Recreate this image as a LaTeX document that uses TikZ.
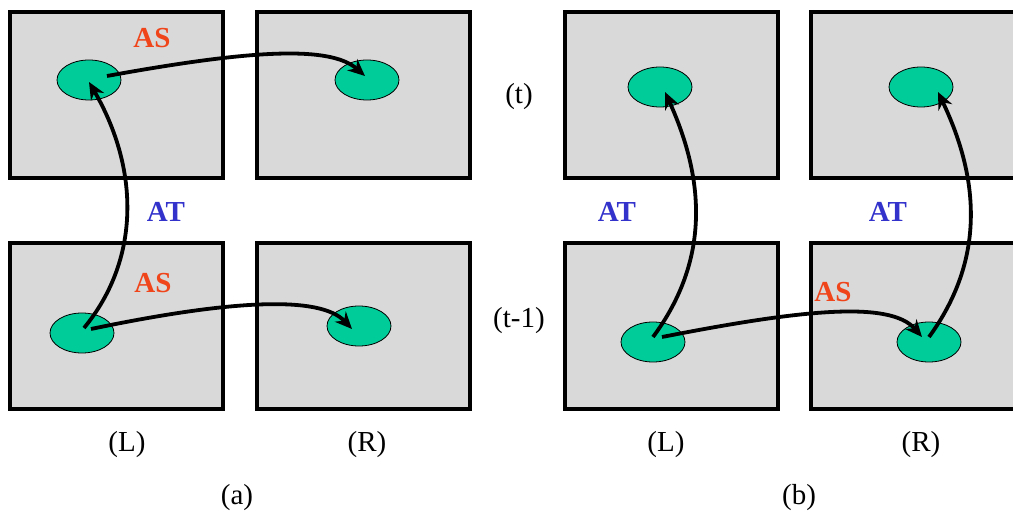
\documentclass[tikz,border=0pt]{standalone}
\usepackage{fontspec}
\setmainfont{Liberation Serif}[BoldFont={Liberation Serif Bold}]
\usepackage{tikz}
\usetikzlibrary{arrows.meta,shapes.geometric}
\definecolor{boxgray}{RGB}{217,217,217}
\definecolor{blobgreen}{RGB}{0,204,153}
\definecolor{asred}{RGB}{240,68,26}
\definecolor{atblue}{RGB}{51,51,204}
\tikzset{
  frame/.style={rectangle, draw, line width=2pt, fill=boxgray, minimum width=106.5pt, minimum height=83pt, inner sep=0pt},
  blob/.style={ellipse, draw, line width=0.4pt, fill=blobgreen, minimum width=32pt, minimum height=20pt, inner sep=0pt},
  lbl/.style={font=\fontsize{14.5}{17}\selectfont},
  aslbl/.style={font=\fontsize{14.5}{17}\selectfont\bfseries, text=asred},
  atlbl/.style={font=\fontsize{14.5}{17}\selectfont\bfseries, text=atblue},
  arr/.style={line width=1.9pt, -{Stealth[length=8.5pt,width=7.5pt]}},
  >=Stealth
}

\begin{document}
\begin{tikzpicture}[x=0.5pt, y=-0.5pt]
  \useasboundingbox (0,0) rectangle (1013,513);
  \clip (0,0) rectangle (1013,513);
  % frames
  \node[frame] (aTL) at (116.5,95) {};
  \node[frame] (aTR) at (363,95) {};
  \node[frame] (aBL) at (116.5,326) {};
  \node[frame] (aBR) at (363,326) {};
  \node[frame] (bTL) at (671.5,95) {};
  \node[frame] (bTR) at (917.5,95) {};
  \node[frame] (bBL) at (671.5,326) {};
  \node[frame] (bBR) at (917.5,326) {};
  % blobs
  \node[blob] (eaTL) at (89,80) {};
  \node[blob] (eaTR) at (367,80) {};
  \node[blob] (eaBL) at (82,333) {};
  \node[blob] (eaBR) at (359,326) {};
  \node[blob] (ebTL) at (660,87) {};
  \node[blob] (ebTR) at (921,87) {};
  \node[blob] (ebBL) at (653,342) {};
  \node[blob] (ebBR) at (929,342) {};
  % labels
  \node[aslbl] (asa1) at (152,38) {AS};
  \node[aslbl] (asa2) at (153,283) {AS};
  \node[aslbl] (asb) at (833,292) {AS};
  \node[atlbl] (ata) at (166,212) {AT};
  \node[atlbl] (atb1) at (617,212) {AT};
  \node[atlbl] (atb2) at (888,212) {AT};
  \node[lbl] (tnow) at (519,97) {(t)};
  \node[lbl] (tprev) at (519,321) {(t-1)};
  \node[lbl] (La) at (127,445) {(L)};
  \node[lbl] (Ra) at (367,445) {(R)};
  \node[lbl] (Lb) at (666,445) {(L)};
  \node[lbl] (Rb) at (921,445) {(R)};
  \node[lbl] (capa) at (237,498) {(a)};
  \node[lbl] (capb) at (799,498) {(b)};
  % transitions (a)
  \draw[arr] ([xshift=9pt,yshift=2pt]eaTL.center) .. controls (250,50) and (330,45) .. ([xshift=-1pt,yshift=2pt]eaTR.center);
  \draw[arr] ([xshift=1pt,yshift=2.5pt]eaBL.center) .. controls (140,260) and (140,170) .. ([yshift=-1pt]eaTL.center);
  \draw[arr] ([xshift=4.5pt,yshift=2pt]eaBL.center) .. controls (230,300) and (320,295) .. ([xshift=-3.5pt,yshift=-1.5pt]eaBR.center);
  % transitions (b)
  \draw[arr] ([yshift=2.5pt]ebBL.center) .. controls (710,260) and (705,180) .. ([xshift=2.5pt,yshift=-2.5pt]ebTL.center);
  \draw[arr] ([yshift=2.5pt]ebBR.center) .. controls (985,260) and (980,180) .. ([xshift=8.5pt,yshift=-2.5pt]ebTR.center);
  \draw[arr] ([xshift=4.5pt,yshift=2.5pt]ebBL.center) .. controls (800,310) and (890,300) .. ([xshift=-3.5pt,yshift=2.5pt]ebBR.center);
\end{tikzpicture}
\end{document}
